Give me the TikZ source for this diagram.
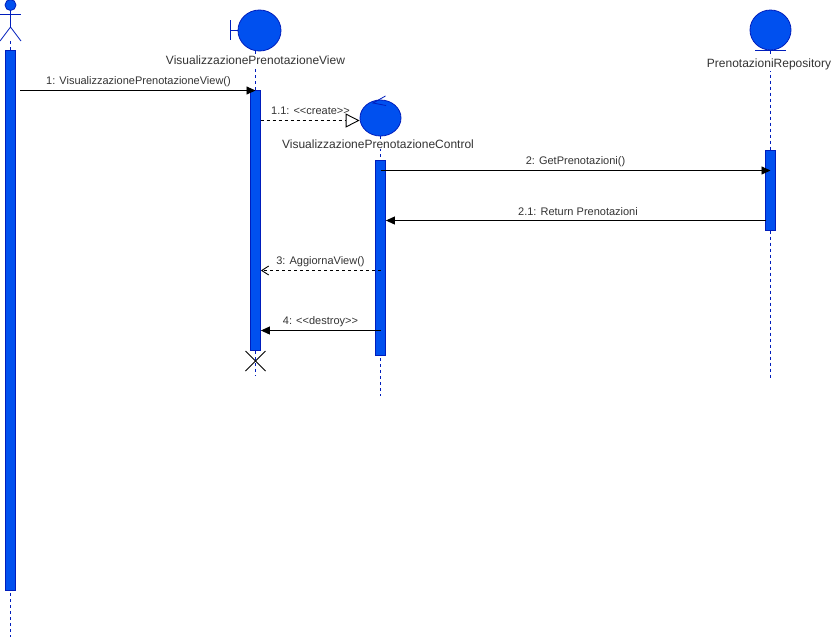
\documentclass[tikz,border=0pt]{standalone}
\usepackage{fontspec}
\setmainfont{Liberation Sans}
\usetikzlibrary{arrows.meta}
\usetikzlibrary{shapes.geometric}

\definecolor{cobalt}{HTML}{0050EF}
\definecolor{cobaltline}{HTML}{001DBC}
\definecolor{labeltext}{HTML}{333333}

\tikzset{
  bar/.style={draw=cobaltline, fill=cobalt, line width=0.8pt, minimum width=10pt, inner sep=0pt},
  ball/.style={ellipse, draw=cobaltline, fill=cobalt, line width=0.8pt, inner sep=0pt},
  life/.style={draw=cobaltline, dashed, dash pattern=on 3pt off 3pt, line width=0.8pt},
  stick/.style={draw=cobaltline, line width=0.8pt},
  title/.style={text=labeltext, fill=white, font=\fontsize{12}{14}\selectfont, inner sep=1pt},
  msglabel/.style={text=labeltext, font=\fontsize{11}{13}\selectfont, inner sep=0pt},
  call/.style={line width=0.9pt, -{Triangle[length=9pt,width=8pt]}},
  answer/.style={line width=0.9pt, dashed, dash pattern=on 3pt off 3pt, -{Straight Barb[length=7pt,width=9pt]}},
  create/.style={line width=0.9pt, dashed, dash pattern=on 3pt off 3pt, -{Triangle[open,fill=white,length=14pt,width=14pt]}}
}

\begin{document}
\begin{tikzpicture}[x=1pt,y=-1pt]

  \useasboundingbox (0,0) rectangle (836,641);

  % actor
  \draw (10.5,5) node[circle, draw=cobaltline, fill=cobalt, line width=0.8pt, minimum size=11pt, inner sep=0pt] (head) {};
  \draw (10.5,14) coordinate (shoulder);
  \draw (10.5,27) coordinate (hip);
  \draw (0,41) coordinate (lfoot);
  \draw (21,41) coordinate (rfoot);
  \draw (0,14) coordinate (lhand);
  \draw (21,14) coordinate (rhand);
  \draw[stick] (head) -- (hip);
  \draw[stick] (lhand) -- (rhand);
  \draw[stick] (lfoot) -- (hip) -- (rfoot);

  % lifelines
  \draw (10.5,637) coordinate (actorend);
  \draw (255.5,376) coordinate (viewend);
  \draw (380.5,396) coordinate (ctrlend);
  \draw (770.5,378) coordinate (repoend);
  \draw (10.5,41) coordinate (actorstart);
  \draw (255.5,51) coordinate (viewstart);
  \draw (380.5,136) coordinate (ctrlstart);
  \draw (770.5,50.5) coordinate (repostart);
  \draw[life] (actorstart) -- (actorend);
  \draw[life] (viewstart) -- (viewend);
  \draw[life] (ctrlstart) -- (ctrlend);
  \draw[life] (repostart) -- (repoend);

  % heads of the lifelines
  \draw (259.5,30.5) node[ball, minimum width=43pt, minimum height=41pt] (viewball) {};
  \draw (380.5,118) node[ball, minimum width=41pt, minimum height=36pt] (ctrlball) {};
  \draw (770.5,30) node[ball, minimum width=41pt, minimum height=40pt] (repoball) {};

  \draw (255.5,60.5) node[title] (viewname) {VisualizzazionePrenotazioneView};
  \draw (378,144) node[title] (ctrlname) {VisualizzazionePrenotazioneControl};
  \draw (769,64) node[title] (reponame) {PrenotazioniRepository};

  % boundary, control and entity marks
  \draw (230.5,20) coordinate (bt);
  \draw (230.5,40) coordinate (bb);
  \draw (230.5,30.5) coordinate (bm);
  \draw[stick] (bt) -- (bb);
  \draw[stick] (bm) -- (viewball.west);
  \draw (385.5,96) coordinate (c1);
  \draw (373,103) coordinate (c2);
  \draw (386,105.5) coordinate (c3);
  \draw[stick] (c1) -- (c2) -- (c3);
  \draw (755,50.5) coordinate (g1);
  \draw (786,50.5) coordinate (g2);
  \draw[stick] (g1) -- (g2);

  % activation bars
  \draw (10.5,320) node[bar, minimum height=540pt] (actorbar) {};
  \draw (255.5,220.5) node[bar, minimum height=260pt] (viewbar) {};
  \draw (380.5,258) node[bar, minimum height=195pt] (ctrlbar) {};
  \draw (770.5,190.5) node[bar, minimum height=80pt] (repobar) {};

  % destruction
  \draw (245.5,351) coordinate (x1);
  \draw (265.5,371) coordinate (x2);
  \draw (245.5,371) coordinate (x3);
  \draw (265.5,351) coordinate (x4);
  \draw[line width=0.8pt] (x1) -- (x2);
  \draw[line width=0.8pt] (x3) -- (x4);

  % messages
  \draw (20,90.5) coordinate (m1);
  \draw[call] (m1) -- (viewbar.center |- m1);
  \draw (138.5,82) node[msglabel] (m1label) {1: VisualizzazionePrenotazioneView()};

  \draw (260.5,120.5) coordinate (m11);
  \draw[create] (m11) -- (ctrlball.west |- m11);
  \draw (310.5,111) node[msglabel] (m11label) {1.1: <{}<{}create>{}>};

  \draw (380.5,170.5) coordinate (m2);
  \draw[call] (m2) -- (repobar.center |- m2);
  \draw (575.5,161.5) node[msglabel] (m2label) {2: GetPrenotazioni()};

  \draw (765.5,220.5) coordinate (m21);
  \draw[call] (m21) -- (ctrlbar.east |- m21);
  \draw (578,211.5) node[msglabel] (m21label) {2.1: Return Prenotazioni};

  \draw (380.5,270.5) coordinate (m3);
  \draw[answer] (m3) -- (viewbar.east |- m3);
  \draw (320.5,261.5) node[msglabel] (m3label) {3: AggiornaView()};

  \draw (381,330.5) coordinate (m4);
  \draw[call] (m4) -- (viewbar.east |- m4);
  \draw (320.5,322) node[msglabel] (m4label) {4: <{}<{}destroy>{}>};

\end{tikzpicture}
\end{document}
